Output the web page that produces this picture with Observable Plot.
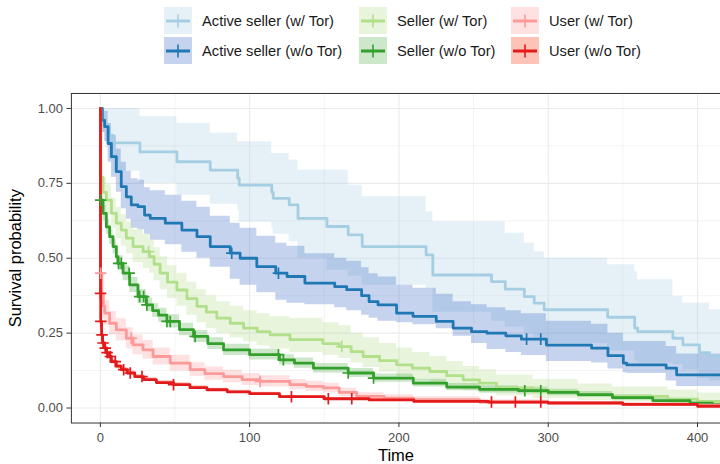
<!DOCTYPE html>
<html><head><meta charset="utf-8">
<script src="https://cdn.jsdelivr.net/npm/d3@7"></script>
<script src="https://cdn.jsdelivr.net/npm/@observablehq/plot@0.6"></script>
<style>
html,body{margin:0;padding:0;background:#fff;width:720px;height:464px;overflow:hidden;font-family:"Liberation Sans",Arial,sans-serif;}
#legend{position:relative;height:70px;width:720px;}
.item{position:absolute;display:flex;align-items:center;height:27px;font-size:14.7px;color:#1a1a1a;white-space:nowrap;}
.item svg{margin-right:10px;display:block;}
#chart{position:relative;height:394px;width:720px;overflow:hidden;}
#chart svg{display:block;}
#chart [aria-label="x-axis tick label"], #chart [aria-label="y-axis tick label"]{fill:#4d4d4d;}
#chart [aria-label="x-axis label"], #chart [aria-label="y-axis label"]{fill:#000;font-size:16.5px;}
</style></head><body>
<div id="legend"></div><div id="chart"></div>
<script>
// ---------- series ----------
const seriesNames = ["Active seller (w/ Tor)", "Active seller (w/o Tor)", "Seller (w/ Tor)", "Seller (w/o Tor)", "User (w/ Tor)", "User (w/o Tor)"];
const lineColors = ["#a6cee3", "#1f78b4", "#b2df8a", "#33a02c", "#fb9a99", "#e31a1c"];
const fillColors = ["#a6cee3", "#3f6cc6", "#b2df8a", "#33a02c", "#fb9a99", "#fb6a4a"];
const fillOpacities = [0.28, 0.3, 0.3, 0.25, 0.3, 0.4];

// Active seller (w/ Tor)
const activeTorT  = [0, 1.3, 3.5, 6, 8.7, 26.5, 51.3, 73.6, 92, 93, 114.8, 115.8, 126.5, 132.4, 151.8, 166, 175.4, 218.2, 222.7, 262, 271.2, 284, 290.6, 297.3, 339.8, 357.9, 359.9, 383.5, 390.2, 401.3, 408, 420];
const activeTorS  = [1, 0.97, 0.94, 0.91, 0.885, 0.855, 0.822, 0.794, 0.767, 0.744, 0.72, 0.70, 0.678, 0.633, 0.606, 0.578, 0.539, 0.511, 0.444, 0.422, 0.397, 0.372, 0.35, 0.328, 0.303, 0.267, 0.255, 0.233, 0.211, 0.185, 0.172, 0.172];
const activeTorHi = [1, 1, 1, 1, 1, 0.972, 0.95, 0.917, 0.889, 0.889, 0.85, 0.85, 0.828, 0.794, 0.794, 0.744, 0.705, 0.655, 0.622, 0.622, 0.583, 0.55, 0.522, 0.5, 0.478, 0.455, 0.428, 0.372, 0.35, 0.35, 0.328, 0.328];
const activeTorLo = [1, 0.92, 0.87, 0.83, 0.79, 0.75, 0.71, 0.68, 0.66, 0.62, 0.6, 0.58, 0.555, 0.5, 0.46, 0.44, 0.41, 0.40, 0.32, 0.29, 0.27, 0.25, 0.235, 0.215, 0.19, 0.157, 0.15, 0.145, 0.127, 0.098, 0.09, 0.09];
const activeTorCensor = [];

// Active seller (w/o Tor)
const activeNoTorT  = [0, 1.3, 2.9, 5.2, 7.4, 10.7, 14, 17.4, 20.7, 25.2, 29.6, 33.4, 43.5, 54.6, 64.7, 73.6, 87, 93.6, 104.8, 117.5, 125, 137, 157, 165, 175, 180, 186, 198.4, 209.4, 225, 236.3, 248.6, 259, 271.6, 282, 298.8, 329, 340, 350.3, 352.6, 379, 386, 420];
const activeNoTorS  = [1, 0.96, 0.939, 0.883, 0.839, 0.789, 0.739, 0.705, 0.678, 0.672, 0.644, 0.633, 0.617, 0.594, 0.572, 0.539, 0.517, 0.5, 0.472, 0.45, 0.439, 0.417, 0.405, 0.395, 0.375, 0.355, 0.344, 0.317, 0.306, 0.289, 0.267, 0.255, 0.25, 0.241, 0.23, 0.21, 0.2, 0.175, 0.15, 0.144, 0.133, 0.111, 0.111];
const activeNoTorHi = [1, 1, 0.99, 0.95, 0.91, 0.865, 0.82, 0.79, 0.765, 0.76, 0.735, 0.725, 0.71, 0.69, 0.67, 0.64, 0.617, 0.6, 0.573, 0.55, 0.54, 0.515, 0.5, 0.49, 0.468, 0.448, 0.437, 0.41, 0.40, 0.38, 0.355, 0.345, 0.335, 0.325, 0.315, 0.29, 0.28, 0.25, 0.222, 0.222, 0.205, 0.18, 0.18];
const activeNoTorLo = [1, 0.92, 0.89, 0.82, 0.77, 0.72, 0.665, 0.63, 0.60, 0.595, 0.58, 0.56, 0.545, 0.52, 0.5, 0.47, 0.43, 0.41, 0.385, 0.36, 0.35, 0.345, 0.335, 0.325, 0.31, 0.3, 0.29, 0.285, 0.278, 0.265, 0.24, 0.215, 0.195, 0.185, 0.175, 0.155, 0.15, 0.13, 0.118, 0.115, 0.09, 0.072, 0.072];
const activeNoTorCensor = [88, 119.3, 285.5, 295];

// Seller (w/ Tor)
const sellerTorT  = [0, 0.3, 1.8, 4, 7.4, 10.7, 14, 17.4, 21.9, 28.6, 33, 36, 40, 45, 51.3, 58, 64.7, 71, 78, 87, 95.9, 105, 113.7, 127, 149, 160, 168, 176, 187, 198.5, 209, 220.7, 232, 243, 254, 265.3, 290, 320, 343, 380, 400, 420];
const sellerTorS  = [1, 0.77, 0.72, 0.694, 0.65, 0.617, 0.594, 0.567, 0.539, 0.522, 0.505, 0.48, 0.45, 0.42, 0.394, 0.365, 0.339, 0.32, 0.30, 0.283, 0.267, 0.255, 0.244, 0.228, 0.215, 0.205, 0.188, 0.172, 0.158, 0.144, 0.133, 0.122, 0.108, 0.094, 0.083, 0.067, 0.055, 0.045, 0.039, 0.03, 0.022, 0.022];
const sellerTorHi = [1, 0.82, 0.77, 0.745, 0.70, 0.67, 0.645, 0.62, 0.595, 0.58, 0.56, 0.535, 0.505, 0.475, 0.45, 0.42, 0.395, 0.375, 0.355, 0.34, 0.325, 0.315, 0.305, 0.30, 0.285, 0.275, 0.25, 0.235, 0.215, 0.2, 0.185, 0.172, 0.155, 0.139, 0.128, 0.11, 0.095, 0.08, 0.07, 0.06, 0.05, 0.05];
const sellerTorLo = [1, 0.72, 0.67, 0.645, 0.60, 0.565, 0.54, 0.515, 0.485, 0.465, 0.45, 0.425, 0.395, 0.365, 0.34, 0.31, 0.285, 0.265, 0.25, 0.235, 0.22, 0.207, 0.197, 0.185, 0.175, 0.165, 0.15, 0.135, 0.12, 0.105, 0.094, 0.083, 0.07, 0.058, 0.05, 0.04, 0.032, 0.025, 0.02, 0.014, 0.01, 0.01];
const sellerTorCensor = [32.3, 161.7];

// Seller (w/o Tor)
const sellerNoTorT  = [0, 0.1, 1.8, 4, 6.2, 8.5, 10.7, 11.8, 15.2, 19.6, 25.2, 30.8, 35, 39, 44.6, 53, 62.4, 72, 82.5, 100, 120, 130, 142.7, 166, 183, 209.6, 232, 254, 280, 300, 320, 343, 370, 395, 410, 420];
const sellerNoTorS  = [1, 0.694, 0.65, 0.605, 0.572, 0.539, 0.505, 0.483, 0.45, 0.411, 0.372, 0.344, 0.325, 0.31, 0.289, 0.262, 0.239, 0.215, 0.194, 0.178, 0.161, 0.15, 0.133, 0.117, 0.1, 0.083, 0.07, 0.062, 0.058, 0.052, 0.045, 0.035, 0.025, 0.016, 0.011, 0.011];
const sellerNoTorHi = [1, 0.715, 0.675, 0.63, 0.597, 0.564, 0.53, 0.508, 0.475, 0.436, 0.396, 0.367, 0.348, 0.333, 0.311, 0.283, 0.259, 0.235, 0.213, 0.196, 0.178, 0.167, 0.149, 0.132, 0.114, 0.096, 0.082, 0.074, 0.069, 0.063, 0.055, 0.044, 0.033, 0.022, 0.016, 0.016];
const sellerNoTorLo = [1, 0.673, 0.625, 0.58, 0.547, 0.514, 0.48, 0.458, 0.425, 0.386, 0.348, 0.321, 0.302, 0.287, 0.267, 0.241, 0.219, 0.195, 0.175, 0.16, 0.144, 0.133, 0.117, 0.102, 0.086, 0.07, 0.058, 0.05, 0.047, 0.041, 0.035, 0.026, 0.017, 0.01, 0.006, 0.006];
const sellerNoTorCensor = [0.2, 12.2, 14, 19.3, 26.3, 29, 31.2, 44.6, 46.8, 63.5, 119.3, 122.6, 166, 183, 284.3, 295];

// User (w/ Tor)
const userTorT  = [0, 0.1, 1, 2, 2.9, 6.2, 10.7, 17.4, 21.9, 28.6, 35.3, 46.8, 60.2, 70, 82.5, 95, 107, 127, 138, 149.4, 160, 171.7, 190, 209.6, 254, 300, 350, 400, 420];
const userTorS  = [1, 0.45, 0.38, 0.34, 0.317, 0.283, 0.261, 0.233, 0.211, 0.194, 0.172, 0.15, 0.128, 0.115, 0.105, 0.095, 0.089, 0.078, 0.072, 0.067, 0.052, 0.039, 0.033, 0.028, 0.02, 0.015, 0.012, 0.01, 0.01];
const userTorHi = [1, 0.5, 0.425, 0.383, 0.358, 0.322, 0.298, 0.268, 0.244, 0.225, 0.2, 0.176, 0.151, 0.137, 0.126, 0.115, 0.108, 0.095, 0.089, 0.083, 0.066, 0.051, 0.044, 0.038, 0.028, 0.022, 0.018, 0.016, 0.016];
const userTorLo = [1, 0.4, 0.335, 0.297, 0.276, 0.244, 0.224, 0.198, 0.178, 0.163, 0.144, 0.124, 0.105, 0.093, 0.084, 0.075, 0.07, 0.061, 0.055, 0.051, 0.038, 0.027, 0.022, 0.018, 0.012, 0.008, 0.006, 0.004, 0.004];
const userTorCensor = [0.2, 20.7, 107];

// User (w/o Tor)
const userNoTorT  = [0, 0.08, 0.25, 0.8, 1.5, 2.8, 4, 5.5, 7.4, 10.7, 14, 18, 23, 29, 37.5, 49, 60, 71.4, 85, 100, 120, 150, 180, 210, 260, 300, 350, 400, 420];
const userNoTorS  = [1, 0.383, 0.289, 0.244, 0.217, 0.2, 0.185, 0.172, 0.155, 0.14, 0.128, 0.117, 0.105, 0.095, 0.085, 0.078, 0.068, 0.061, 0.054, 0.048, 0.038, 0.031, 0.027, 0.022, 0.02, 0.017, 0.012, 0.006, 0.006];
const userNoTorHi = [1, 0.395, 0.3, 0.254, 0.227, 0.21, 0.194, 0.181, 0.163, 0.148, 0.135, 0.124, 0.112, 0.101, 0.091, 0.084, 0.074, 0.066, 0.059, 0.053, 0.042, 0.035, 0.031, 0.026, 0.024, 0.021, 0.016, 0.009, 0.009];
const userNoTorLo = [1, 0.371, 0.278, 0.234, 0.207, 0.19, 0.176, 0.163, 0.147, 0.132, 0.121, 0.11, 0.098, 0.089, 0.079, 0.072, 0.062, 0.056, 0.049, 0.043, 0.034, 0.027, 0.023, 0.018, 0.016, 0.013, 0.008, 0.003, 0.003];
const userNoTorCensor = [0.1, 0.3, 1.1, 1.8, 3.3, 4.5, 6.7, 10, 15.6, 20, 27.9, 49, 128, 152.7, 168.4, 262, 278, 295];

// ---------- axes ----------
const xTicks = [0, 100, 200, 300, 400];
const xMinorTicks = [50, 150, 250, 350];
const yTicks = [0, 0.25, 0.5, 0.75, 1];
const yMinorTicks = [0.125, 0.375, 0.625, 0.875];
const xLabel = "Time";
const yLabel = "Survival probability";

// ---------- build tables ----------
const allT = [activeTorT, activeNoTorT, sellerTorT, sellerNoTorT, userTorT, userNoTorT];
const allS = [activeTorS, activeNoTorS, sellerTorS, sellerNoTorS, userTorS, userNoTorS];
const allHi = [activeTorHi, activeNoTorHi, sellerTorHi, sellerNoTorHi, userTorHi, userNoTorHi];
const allLo = [activeTorLo, activeNoTorLo, sellerTorLo, sellerNoTorLo, userTorLo, userNoTorLo];
const allCensor = [activeTorCensor, activeNoTorCensor, sellerTorCensor, sellerNoTorCensor, userTorCensor, userNoTorCensor];

const curves = seriesNames.map((name, i) => allT[i].map((t, j) => ({series: name, t, s: allS[i][j], lo: allLo[i][j], hi: allHi[i][j]})));
const survAt = (i, t) => {
  const k = d3.bisectRight(allT[i], t) - 1;
  return allS[i][Math.max(0, k)];
};
const censors = seriesNames.map((name, i) => allCensor[i].map(t => ({series: name, t, s: survAt(i, t)})));

const bandMarks = curves.map((rows, i) => Plot.areaY(rows, {x: "t", y1: "lo", y2: "hi", curve: "step-after", fill: fillColors[i], fillOpacity: fillOpacities[i], clip: true}));
const lineMarks = curves.map((rows, i) => Plot.line(rows, {x: "t", y: "s", curve: "step-after", stroke: lineColors[i], strokeWidth: 2.8, clip: true}));
const censorMarks = censors.map((rows, i) => Plot.dot(rows, {x: "t", y: "s", symbol: "plus", r: 3.8, stroke: lineColors[i], strokeWidth: 1.7, clip: true}));

const chart = Plot.plot({
  width: 721, height: 394,
  marginLeft: 71, marginRight: 0, marginTop: 23, marginBottom: 41,
  style: {fontFamily: "Liberation Sans, Arial, sans-serif", background: "#fff"},
  x: {domain: [-19.4, 415.4]},
  y: {domain: [-0.05, 1.05]},
  marks: [
    Plot.gridX(xMinorTicks, {stroke: "#ededed", strokeOpacity: 1, strokeWidth: 0.6}),
    Plot.gridY(yMinorTicks, {stroke: "#ededed", strokeOpacity: 1, strokeWidth: 0.6}),
    Plot.gridX(xTicks, {stroke: "#ebebeb", strokeOpacity: 1, strokeWidth: 1.1}),
    Plot.gridY(yTicks, {stroke: "#ebebeb", strokeOpacity: 1, strokeWidth: 1.1}),
    ...bandMarks,
    ...lineMarks,
    ...censorMarks,
    Plot.frame({stroke: "#333", strokeWidth: 1}),
    Plot.axisX(xTicks, {tickSize: 4.5, tickPadding: 5, stroke: "#333", fontSize: 13, label: xLabel, labelAnchor: "center", labelArrow: "none", labelOffset: 38.5}),
    Plot.axisY(yTicks, {tickSize: 4.5, tickPadding: 4, stroke: "#333", fontSize: 13, tickFormat: d3.format(".2f"), label: yLabel, labelAnchor: "center", labelArrow: "none", labelOffset: 62})
  ]
});
document.getElementById("chart").appendChild(chart);

// ---------- legend ----------
const legendCols = [164, 359, 511];
const legendRows = [7, 37];
const legend = document.getElementById("legend");
seriesNames.forEach((name, i) => {
  const col = Math.floor(i / 2), row = i % 2;
  const item = document.createElement("div");
  item.className = "item";
  item.style.left = legendCols[col] + "px";
  item.style.top = legendRows[row] + "px";
  const ns = "http://www.w3.org/2000/svg";
  const svg = document.createElementNS(ns, "svg");
  svg.setAttribute("width", 28); svg.setAttribute("height", 27);
  const rect = document.createElementNS(ns, "rect");
  rect.setAttribute("width", 28); rect.setAttribute("height", 27);
  rect.setAttribute("fill", fillColors[i]); rect.setAttribute("fill-opacity", fillOpacities[i]);
  svg.appendChild(rect);
  const ln = document.createElementNS(ns, "line");
  ln.setAttribute("x1", 2); ln.setAttribute("x2", 26); ln.setAttribute("y1", 14); ln.setAttribute("y2", 14);
  ln.setAttribute("stroke", lineColors[i]); ln.setAttribute("stroke-width", 3);
  svg.appendChild(ln);
  const p = document.createElementNS(ns, "path");
  p.setAttribute("d", "M14,7.5V20.5M8,14H20");
  p.setAttribute("stroke", lineColors[i]); p.setAttribute("stroke-width", 1.6); p.setAttribute("fill", "none");
  svg.appendChild(p);
  item.appendChild(svg);
  const label = document.createElement("span");
  label.textContent = name;
  item.appendChild(label);
  legend.appendChild(item);
});
</script>
</body></html>
